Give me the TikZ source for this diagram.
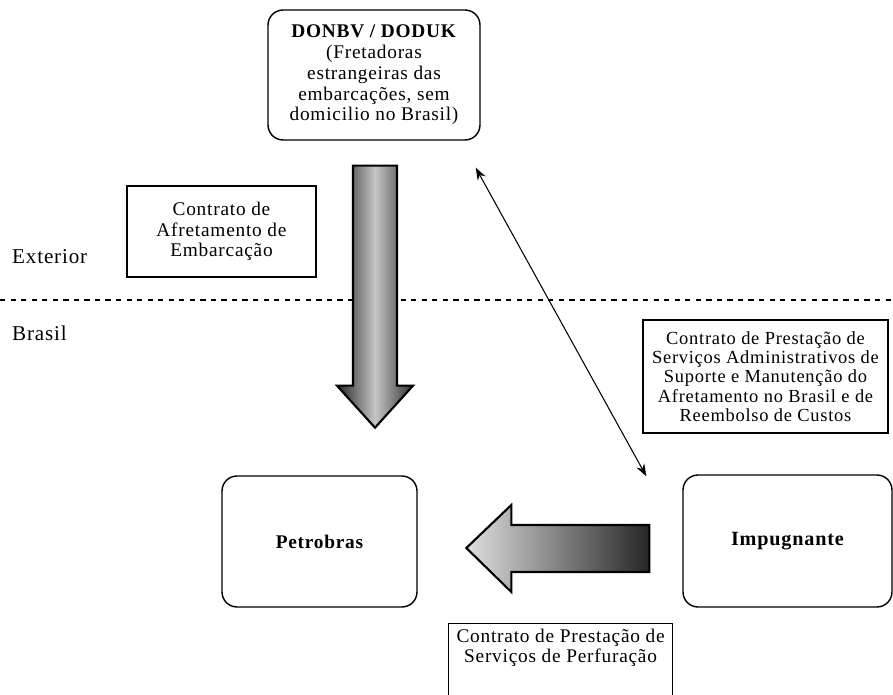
\documentclass[tikz,border=0pt]{standalone}
\usepackage{fontspec}
\setmainfont{Liberation Serif}[LetterSpace=4]
\usetikzlibrary{calc, positioning, arrows.meta}

\begin{document}
\begin{tikzpicture}[
    x=0.02cm, y=-0.02cm,
    >={Stealth[length=7pt, width=5pt]},
    roundbox/.style={draw, rounded corners=0.3cm, line width=0.8pt, align=center},
    txtbox/.style={draw, line width=0.7pt, align=center, font=\fontsize{11}{11.5}\selectfont},
    blockarrow/.style={draw, line width=1.2pt, line join=miter}
]
    \useasboundingbox (0,0) rectangle (893,695);

    % Parties
    \node[roundbox, minimum width=4.24cm, minimum height=2.6cm, font=\fontsize{11}{11.8}\selectfont] (donbv) at (374,75)
        {\textbf{DONBV / DODUK}\\(Fretadoras\\estrangeiras das\\embarcações, sem\\domicilio no Brasil)};
    \node[roundbox, minimum width=3.9cm, minimum height=2.62cm, font=\fontsize{11}{12}\selectfont\bfseries] (petrobras) at (319.5,541.5) {Petrobras};
    \node[roundbox, minimum width=4.18cm, minimum height=2.64cm, font=\fontsize{11.5}{12}\selectfont\bfseries] (impugnante) at (787.5,541) {Impugnante};

    % Contracts
    \node[txtbox, minimum width=3.78cm, minimum height=1.82cm] (afret) at (221.5,231.5)
        {Contrato de\\Afretamento de\\Embarcação};
    \node[txtbox, minimum width=4.9cm, minimum height=2.26cm, font=\fontsize{10.5}{11}\selectfont] (servadm) at (765.5,376.5)
        {Contrato de Prestação de\\Serviços Administrativos de\\Suporte e Manutenção do\\Afretamento no Brasil e de\\Reembolso de Custos};
    \node[txtbox, anchor=north west, inner sep=0pt] (perf) at (448,623)
        {\parbox[t][2cm][t]{4.48cm}{\centering\vspace{3pt}Contrato de Prestação de\\Serviços de Perfuração}};

    % Exterior / Brasil
    \node[anchor=west, font=\fontsize{12}{14}\selectfont] (exterior) at (6,257) {Exterior};
    \node[anchor=west, font=\fontsize{12}{14}\selectfont] (brasil) at (6,333) {Brasil};
    \coordinate (lineL) at (0,300);
    \coordinate (lineR) at (893,300);
    \draw[dashed, line width=0.8pt] (lineL) -- (lineR);

    % Block arrows
    \draw[blockarrow, left color=black!85, right color=black!80, middle color=gray!45]
        ($(donbv.south)+(-21,25)$) -- ++(44,0) -- ++(0,220) -- ++(16,0)
        -- ++(-38,42) -- ++(-38,-42) -- ++(16,0) -- cycle;
    \draw[blockarrow, left color=gray!25, right color=black!85]
        ($(impugnante.west)+(-33,-16)$) -- ++(0,47) -- ++(-138,0) -- ++(0,20)
        -- ++(-45,-44) -- ++(45,-43) -- ++(0,20) -- cycle;

    % Double arrow
    \draw[<->, line width=0.6pt] ($(donbv.south east)+(-5,27)$) -- ($(impugnante.north west)+(-36,2)$);

\end{tikzpicture}
\end{document}
